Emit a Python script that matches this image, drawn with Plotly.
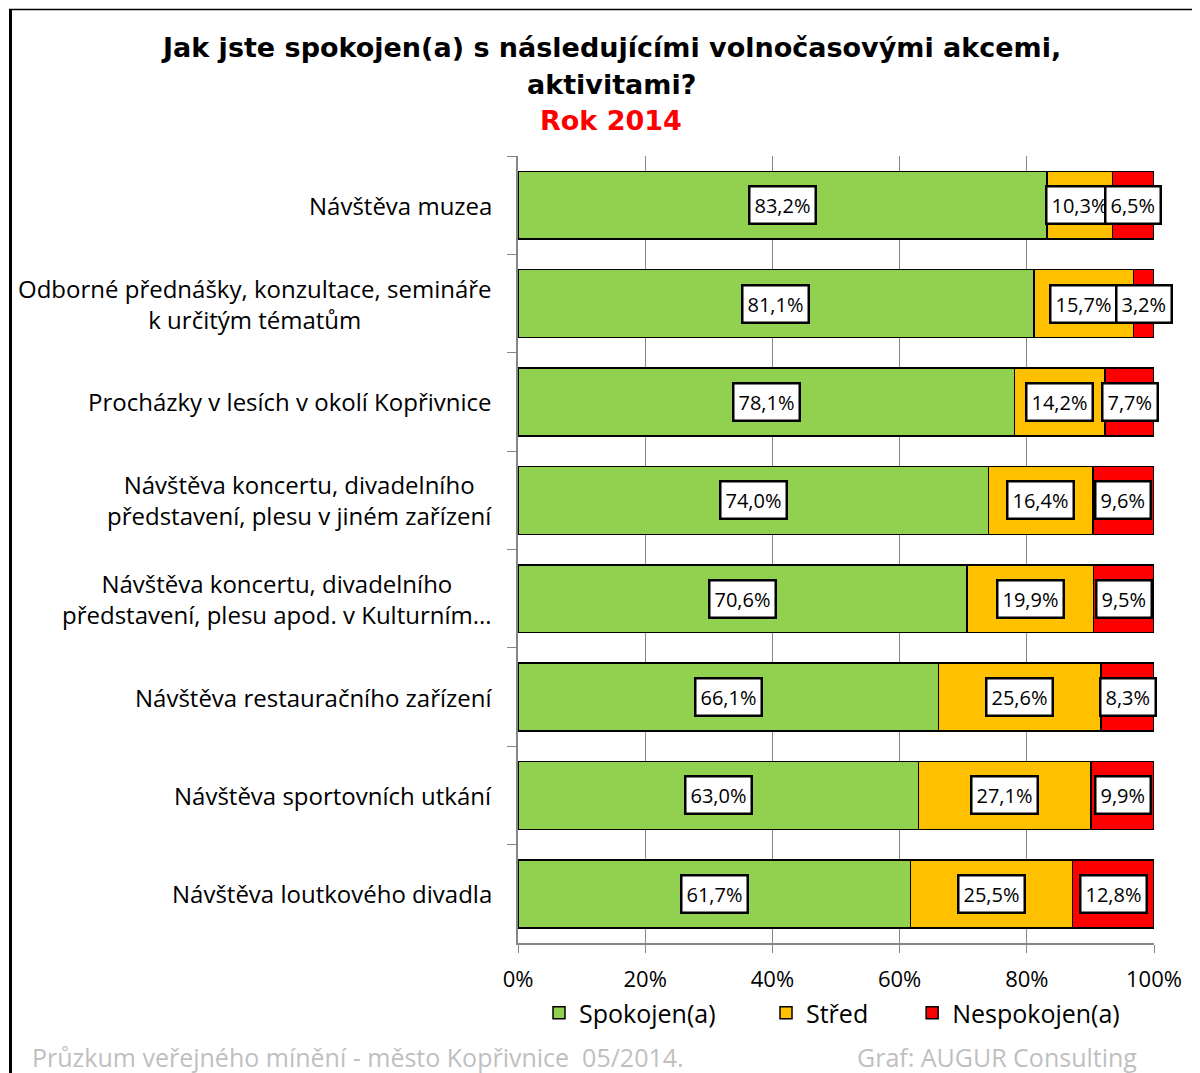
import plotly.graph_objects as go

categories = [
    "Návštěva muzea",
    "Odborné přednášky, konzultace, semináře<br>k určitým tématům",
    "Procházky v lesích v okolí Kopřivnice",
    "Návštěva koncertu, divadelního<br>představení, plesu v jiném zařízení",
    "Návštěva koncertu, divadelního<br>představení, plesu apod. v Kulturním...",
    "Návštěva restauračního zařízení",
    "Návštěva sportovních utkání",
    "Návštěva loutkového divadla",
]
spokojen = [83.2, 81.1, 78.1, 74.0, 70.6, 66.1, 63.0, 61.7]
stred = [10.3, 15.7, 14.2, 16.4, 19.9, 25.6, 27.1, 25.5]
nespokojen = [6.5, 3.2, 7.7, 9.6, 9.5, 8.3, 9.9, 12.8]
series_names = ["Spokojen(a)", "Střed", "Nespokojen(a)"]
colors = ["#92D050", "#FFC000", "#FF0000"]
x_ticks = [0, 20, 40, 60, 80, 100]
x_ticklabels = ["0%", "20%", "40%", "60%", "80%", "100%"]
title_lines = ["Jak jste spokojen(a) s následujícími volnočasovými akcemi,", "aktivitami?", "Rok 2014"]
footer_left = "Průzkum veřejného mínění - město Kopřivnice  05/2014."
footer_right = "Graf: AUGUR Consulting"

FONT = "Open Sans"
OFF = 8  # browser body margin
W, H = 1200 - OFF, 1073 - OFF
ML, MR, MT, MB = 518 - OFF, 46, 156 - OFF, 130

fig = go.Figure()
series = [spokojen, stred, nespokojen]
pads = ["\u00a0" * 7, "\u00a0" * 6, ""]
for name, vals, col, pad in zip(series_names, series, colors, pads):
    fig.add_trace(go.Bar(
        y=categories, x=vals, name=name + pad, orientation="h",
        marker=dict(color=col, line=dict(color="black", width=1.5)),
        width=0.69,
    ))

def fmt(v):
    return f"{v:.1f}".replace(".", ",") + "%"

annotations = []
for i, cat in enumerate(categories):
    base = 0.0
    for vals in series:
        v = vals[i]
        annotations.append(dict(
            x=base + v / 2, y=cat, xref="x", yref="y", text=fmt(v),
            showarrow=False, font=dict(family=FONT, size=20, color="black"),
            bgcolor="white", bordercolor="black", borderwidth=2.5, borderpad=4,
        ))
        base += v
    annotations.append(dict(
        x=0, y=cat, xref="paper", yref="y", text=cat, xanchor="right",
        xshift=-24, align="center", showarrow=False,
        font=dict(family=FONT, size=24, color="black"),
    ))

pw = W - ML - MR
ph = H - MT - MB
def px(xp):
    return (xp - OFF - ML) / pw
def py(yp):
    return (H - MB - (yp - OFF)) / ph

# title lines
for txt, yy, col in zip(title_lines, [47, 84, 121], ["black", "black", "#FF0000"]):
    annotations.append(dict(
        x=px(611), y=py(yy), xref="paper", yref="paper", xanchor="center", yanchor="middle",
        text=txt, showarrow=False,
        font=dict(family="DejaVu Sans", size=27, color=col, weight="bold"),
    ))

annotations.append(dict(
    x=px(30), y=py(1057), xref="paper", yref="paper", xanchor="left", yanchor="middle",
    text=footer_left, showarrow=False,
    font=dict(family=FONT, size=25, color="#BFBFBF"),
))
annotations.append(dict(
    x=px(855), y=py(1057), xref="paper", yref="paper", xanchor="left", yanchor="middle",
    text=footer_right, showarrow=False,
    font=dict(family=FONT, size=25, color="#BFBFBF"),
))

shapes = [
    dict(type="line", xref="paper", yref="paper", x0=px(10.5), x1=px(10.5), y0=py(9), y1=py(1080),
         line=dict(color="black", width=3)),
    dict(type="line", xref="paper", yref="paper", x0=px(9), x1=px(1205), y0=py(9.5), y1=py(9.5),
         line=dict(color="black", width=1.5)),
]

fig.update_layout(
    width=W, height=H,
    margin=dict(l=ML, r=MR, t=MT, b=MB),
    barmode="stack", bargap=0.31,
    paper_bgcolor="white", plot_bgcolor="white",
    showlegend=True,
    legend=dict(
        orientation="h", x=px(832), xanchor="center", y=py(1013), yanchor="middle",
        font=dict(family=FONT, size=25, color="black"), traceorder="normal",
        itemwidth=30,
    ),
    annotations=annotations,
    shapes=shapes,
    xaxis=dict(
        range=[0, 100], tickvals=x_ticks, ticktext=x_ticklabels,
        showgrid=True, gridcolor="#868686", gridwidth=1,
        ticks="outside", ticklen=8, tickcolor="#868686",
        showline=True, linecolor="#868686", linewidth=1.5,
        zeroline=False, ticklabelstandoff=8,
        tickfont=dict(family=FONT, size=22, color="black"),
    ),
    yaxis=dict(
        type="category", categoryorder="array", categoryarray=categories,
        autorange="reversed", showticklabels=False,
        tickson="boundaries", ticks="outside", ticklen=9, tickcolor="#868686",
        showline=True, linecolor="#868686", linewidth=1.5, showgrid=False,
    ),
)

fig.write_html("out.html")
